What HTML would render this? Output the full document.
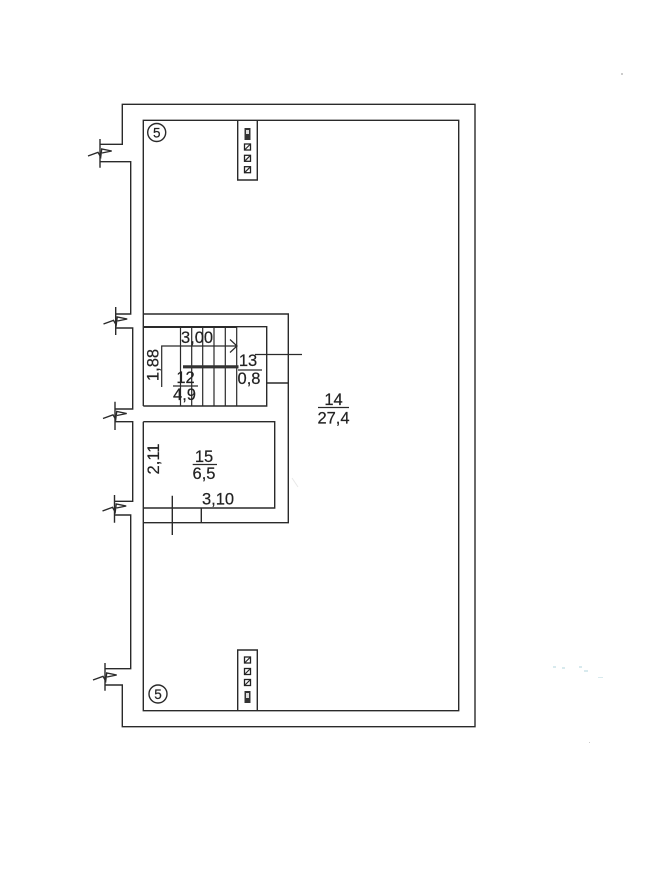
<!DOCTYPE html>
<html>
<head>
<meta charset="utf-8">
<style>
html,body{margin:0;padding:0;background:#fff;width:667px;height:895px;overflow:hidden}
svg{display:block}
text{font-family:"Liberation Sans",Arial,sans-serif;font-size:16.5px;fill:#222;text-anchor:middle;stroke:#222;stroke-width:.2}
.l{fill:none;stroke:#2a2a2a;stroke-width:1.4}
.t{stroke:#2a2a2a;stroke-width:1.2;fill:none}
.s{fill:#fff;stroke:#222;stroke-width:1.3}
</style>
</head>
<body>
<svg width="667" height="895" viewBox="0 0 667 895" xmlns="http://www.w3.org/2000/svg">
<defs>
<g id="z"><path class="l" d="M-12 3L-2-.7L.7 4L1.7-4L11.7-2L2 0"/></g>
<g id="q"><rect class="s" x="-3" y="-3" width="6" height="6"/><path class="t" d="M-2.5 2.5L2.5-2.5"/></g>
</defs>

<!-- outer wall -->
<path class="l" d="M100 144.3H122.3V104.3H475V726.7H122.3V685H105"/>
<path class="l" d="M100 161.7H130.7V314H115.7"/>
<path class="l" d="M115.7 328H132.7V409H115"/>
<path class="l" d="M115 421.7H132.7V501.3H114.5"/>
<path class="l" d="M114.5 515H130.7V668.7H105"/>

<!-- break ticks -->
<path class="l" d="M100 139V167.7M115.7 307V335M115 401.7V430M114.5 495V522.7M105 663V690.7"/>
<use href="#z" x="100" y="153"/>
<use href="#z" x="115.5" y="321"/>
<use href="#z" x="115" y="415.5"/>
<use href="#z" x="114.5" y="508"/>
<use href="#z" x="105" y="677"/>

<!-- inner wall -->
<path class="l" d="M143.3 406V120.3H458.7V710.7H143.3V421.7"/>

<!-- central partitions -->
<path class="l" d="M143.3 314H288.3V522.7H143.3"/>
<path class="l" d="M143.3 326.7H266.7V406H143.3"/>
<path d="M143.3 327H237" stroke="#2a2a2a" stroke-width="2" fill="none"/>
<path class="l" d="M143.3 421.7H274.7V508H143.3"/>
<path class="l" d="M266.7 383H288.3"/>
<path class="l" d="M201.3 508V522.7M172.3 495.7V535"/>

<!-- stair -->
<path class="t" d="M180.5 327V406M191.7 327V406M202.7 327V406M214 327V406M225.3 327V406M236.7 327V406"/>
<path class="t" d="M161.7 387V346H236M230 339.5L237 346L230 352.5"/>
<path d="M183 366.8H238.5" stroke="#333" stroke-width="3.2" fill="none"/>
<path class="t" d="M173 386H198M238 370H262M255 354.5H302"/>

<!-- equipment boxes -->
<path class="l" d="M237.7 120.3V180H257.3V120.3M237.7 710.7V650H257.3V710.7"/>
<use href="#q" x="247.5" y="147"/>
<use href="#q" x="247.5" y="158.3"/>
<use href="#q" x="247.5" y="169.7"/>
<use href="#q" x="247.5" y="660"/>
<use href="#q" x="247.5" y="671.5"/>
<use href="#q" x="247.5" y="682.5"/>
<rect x="244.5" y="128" width="6" height="12" fill="#333"/>
<rect x="246" y="130" width="3" height="4" fill="#ddd"/>
<rect x="244.5" y="691" width="6" height="12" fill="#333"/>
<rect x="246" y="693" width="3" height="5" fill="#ddd"/>

<!-- circles -->
<circle class="l" cx="156.7" cy="132.5" r="9"/>
<text x="156.7" y="137.5" style="font-size:13.5px">5</text>
<circle class="l" cx="158" cy="694" r="9"/>
<text x="158" y="699" style="font-size:13.5px">5</text>

<!-- labels -->
<text x="197" y="343">3,00</text>
<text transform="translate(158.5 365) rotate(-90)" x="0" y="0">1,88</text>
<text x="185.5" y="383">12</text>
<text x="184.5" y="400">4,9</text>
<text x="248" y="366">13</text>
<text x="249" y="384">0,8</text>
<text x="333.5" y="405">14</text>
<path class="t" d="M318 407.5H349"/>
<text x="333.5" y="423.5">27,4</text>
<text x="204" y="462">15</text>
<path class="t" d="M192.7 464.5H217"/>
<text x="204" y="479">6,5</text>
<text transform="translate(159 459) rotate(-90)" x="0" y="0">2,11</text>
<text x="218" y="504.5">3,10</text>

<!-- scan specks -->
<g fill="#cfe6ea" opacity=".8">
<rect x="553" y="666" width="3" height="2"/><rect x="562" y="667" width="3" height="2"/>
<rect x="579" y="666" width="3" height="2"/><rect x="584" y="670" width="4" height="2"/>
<rect x="598" y="677" width="5" height="1"/>
</g>
<g fill="#ccc">
<rect x="621" y="73" width="2" height="2"/>
<rect x="589" y="742" width="1" height="1"/>
</g>
<path d="M292 478L298 487" stroke="#e8e8e8" stroke-width="1" fill="none"/>
</svg>
</body>
</html>
